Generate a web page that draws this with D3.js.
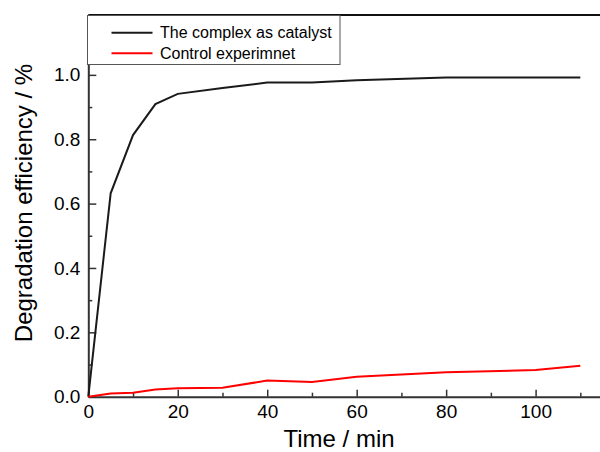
<!DOCTYPE html>
<html>
<head>
<meta charset="utf-8">
<script src="https://cdn.jsdelivr.net/npm/d3@7"></script>
<style>
  body { margin: 0; background: #fff; }
  text { font-family: "Liberation Sans", Arial, sans-serif; }
</style>
</head>
<body>
<div id="chart"></div>
<script>
// data
var timeCat = [0, 5, 10, 15, 20, 30, 40, 50, 60, 80, 100, 110];
var catalyst = [0, 0.632, 0.813, 0.909, 0.941, 0.959, 0.976, 0.976, 0.983, 0.992, 0.992, 0.992];
var timeCtl = [0, 5, 10, 15, 20, 30, 40, 50, 60, 80, 100, 110];
var control = [0, 0.010, 0.012, 0.022, 0.026, 0.028, 0.050, 0.046, 0.062, 0.076, 0.083, 0.096];
var xMajor = [0, 20, 40, 60, 80, 100];
var xMinor = [10, 30, 50, 70, 90, 110];
var yMajor = [0, 0.2, 0.4, 0.6, 0.8, 1.0];
var yMinor = [0.1, 0.3, 0.5, 0.7, 0.9, 1.1];
var seriesNames = ["The complex as catalyst", "Control experimnet"];
var seriesColors = ["#1a1a1a", "#ff0000"];

var width = 600, height = 452;
var plotLeft = 88.3, plotTop = 15, plotBottom = 396.7;

var svg = d3.select("#chart").append("svg")
    .attr("width", width)
    .attr("height", height);

var x = d3.scaleLinear().domain([0, 120]).range([plotLeft, plotLeft + 120 * 4.473]);
var y = d3.scaleLinear().domain([0, 1.186]).range([plotBottom, plotTop]);

// x axis
svg.append("g")
    .attr("transform", "translate(0," + plotBottom + ")")
    .call(d3.axisBottom(x).tickValues(xMajor).tickSize(-7).tickPadding(7.5).tickSizeOuter(0));
svg.append("g")
    .attr("transform", "translate(0," + plotBottom + ")")
    .call(d3.axisBottom(x).tickValues(xMinor).tickSize(-4).tickFormat("").tickSizeOuter(0))
    .select(".domain").remove();

// y axis
svg.append("g")
    .attr("transform", "translate(" + plotLeft + ",0)")
    .call(d3.axisLeft(y).tickValues(yMajor).tickFormat(d3.format(".1f")).tickSize(-8).tickPadding(8).tickSizeOuter(0));
svg.append("g")
    .attr("transform", "translate(" + plotLeft + ",0)")
    .call(d3.axisLeft(y).tickValues(yMinor).tickSize(-4).tickFormat("").tickSizeOuter(0))
    .select(".domain").remove();

svg.selectAll(".domain").attr("stroke", "#333").attr("stroke-width", 2);
svg.selectAll(".tick line").attr("stroke", "#333").attr("stroke-width", 1.5);
svg.selectAll(".tick text").style("font-size", "19px").attr("fill", "#000");

// top frame line
svg.append("line")
    .attr("x1", plotLeft).attr("x2", width)
    .attr("y1", plotTop).attr("y2", plotTop)
    .attr("stroke", "#111").attr("stroke-width", 2);

// series
var line = d3.line()
    .x(function (d) { return x(d[0]); })
    .y(function (d) { return y(d[1]); });

svg.append("path")
    .datum(d3.zip(timeCat, catalyst))
    .attr("d", line)
    .attr("fill", "none")
    .attr("stroke", seriesColors[0])
    .attr("stroke-width", 2);

svg.append("path")
    .datum(d3.zip(timeCtl, control))
    .attr("d", line)
    .attr("fill", "none")
    .attr("stroke", seriesColors[1])
    .attr("stroke-width", 2);

// legend
var legend = svg.append("g");
legend.append("rect")
    .attr("x", 87.5).attr("y", 15.5)
    .attr("width", 252.5).attr("height", 49)
    .attr("fill", "#fff")
    .attr("stroke", "#555").attr("stroke-width", 1);
seriesNames.forEach(function (name, i) {
    var ly = 32.7 + i * 20.6;
    legend.append("line")
        .attr("x1", 111.5).attr("x2", 152.5)
        .attr("y1", ly).attr("y2", ly)
        .attr("stroke", seriesColors[i]).attr("stroke-width", 2);
    legend.append("text")
        .attr("x", 160).attr("y", ly + 5.6)
        .style("font-size", "16px")
        .text(name);
});

// axis titles
svg.append("text")
    .attr("x", 339).attr("y", 447)
    .attr("text-anchor", "middle")
    .style("font-size", "24px")
    .text("Time / min");

svg.append("text")
    .attr("transform", "translate(32,203) rotate(-90)")
    .attr("text-anchor", "middle")
    .style("font-size", "24px")
    .text("Degradation efficiency / %");
</script>
</body>
</html>
